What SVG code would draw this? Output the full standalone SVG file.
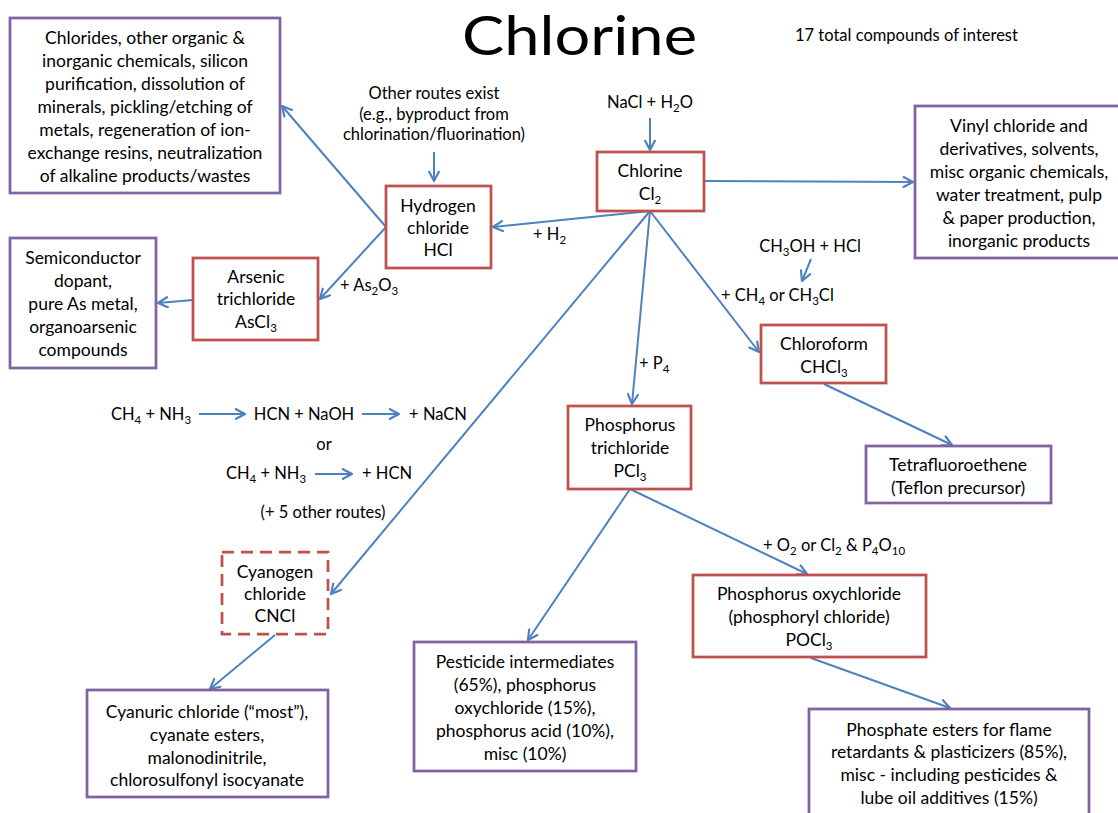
<svg xmlns="http://www.w3.org/2000/svg" width="1118" height="813" viewBox="0 0 1118 813">
  <defs>
    <style>
      text { font-family: Lato, "Open Sans", "Liberation Sans", sans-serif; fill: #000; }
      .t { font-size: 17.5px; text-anchor: middle; }
      .l { font-size: 16.5px; }
      .lc { font-size: 16.5px; text-anchor: middle; }
      .title { font-size: 55px; }
      .sub { font-size: 11.5px; }
      .red { fill: #fff; stroke: #C0504D; stroke-width: 2.75; }
      .purple { fill: #fff; stroke: #8064A2; stroke-width: 2.75; }
      .dash { stroke-dasharray: 12 7; }
      .conn line { stroke: #4F81BD; stroke-width: 2; fill: none; marker-end: url(#ah); }
    </style>
    <marker id="ah" viewBox="0 0 12 12" refX="10.5" refY="6" markerWidth="12" markerHeight="12" markerUnits="userSpaceOnUse" orient="auto">
      <path d="M1,1 L10.5,6 L1,11" fill="none" stroke="#4F81BD" stroke-width="2.2" stroke-linecap="round" stroke-linejoin="round"/>
    </marker>
  </defs>

  <rect width="1118" height="813" fill="#fff"/>

  <!-- heading -->
  <g id="title">
    <text class="title" x="462" y="54.5" textLength="235" lengthAdjust="spacingAndGlyphs">Chlorine</text>
    <text class="l" x="795" y="41">17 total compounds of interest</text>
  </g>

  <!-- connectors -->
  <g id="connectors" class="conn">
    <line x1="434" y1="152" x2="434" y2="181"/>
    <line x1="650" y1="118" x2="650" y2="150"/>
    <line x1="705" y1="181" x2="913" y2="182"/>
    <line x1="650" y1="211" x2="493" y2="227"/>
    <line x1="386" y1="227" x2="282" y2="106"/>
    <line x1="386" y1="227" x2="320" y2="299"/>
    <line x1="193" y1="300" x2="158" y2="303"/>
    <line x1="650" y1="211" x2="759" y2="352"/>
    <line x1="811" y1="259" x2="802" y2="281"/>
    <line x1="824" y1="384" x2="952" y2="445"/>
    <line x1="650" y1="211" x2="632" y2="404"/>
    <line x1="650" y1="211" x2="331" y2="594"/>
    <line x1="275" y1="635" x2="210" y2="689"/>
    <line x1="630" y1="489" x2="528" y2="640"/>
    <line x1="630" y1="489" x2="807" y2="574"/>
    <line x1="811" y1="658" x2="950" y2="708"/>
    <line x1="199" y1="414" x2="245" y2="414"/>
    <line x1="362" y1="414" x2="399" y2="414"/>
    <line x1="315" y1="474" x2="352" y2="474"/>
  </g>

  <!-- connector labels and side notes -->
  <g id="labels">
    <text class="lc" x="434" y="99">Other routes exist</text>
    <text class="lc" x="434" y="120">(e.g., byproduct from</text>
    <text class="lc" x="434" y="140">chlorination/fluorination)</text>
    <text class="lc" x="650" y="108">NaCl + H<tspan class="sub" dy="4">2</tspan><tspan dy="-4">O</tspan></text>
    <text class="l" x="533" y="240">+ H<tspan class="sub" dy="4">2</tspan></text>
    <text class="l" x="340" y="291">+ As<tspan class="sub" dy="4">2</tspan><tspan dy="-4">O</tspan><tspan class="sub" dy="4">3</tspan></text>
    <text class="lc" x="810" y="252">CH<tspan class="sub" dy="4">3</tspan><tspan dy="-4">OH + HCl</tspan></text>
    <text class="l" x="721" y="301">+ CH<tspan class="sub" dy="4">4</tspan><tspan dy="-4"> or CH</tspan><tspan class="sub" dy="4">3</tspan><tspan dy="-4">Cl</tspan></text>
    <text class="l" x="639" y="369">+ P<tspan class="sub" dy="4">4</tspan></text>
    <text class="l" x="763" y="551">+ O<tspan class="sub" dy="4">2</tspan><tspan dy="-4"> or Cl</tspan><tspan class="sub" dy="4">2</tspan><tspan dy="-4"> &amp; P</tspan><tspan class="sub" dy="4">4</tspan><tspan dy="-4">O</tspan><tspan class="sub" dy="4">10</tspan></text>
    <text class="lc" x="151" y="420">CH<tspan class="sub" dy="4">4</tspan><tspan dy="-4"> + NH</tspan><tspan class="sub" dy="4">3</tspan></text>
    <text class="lc" x="304" y="420">HCN + NaOH</text>
    <text class="lc" x="438" y="420">+ NaCN</text>
    <text class="lc" x="324" y="450">or</text>
    <text class="lc" x="266" y="479">CH<tspan class="sub" dy="4">4</tspan><tspan dy="-4"> + NH</tspan><tspan class="sub" dy="4">3</tspan></text>
    <text class="lc" x="387" y="479">+ HCN</text>
    <text class="lc" x="323" y="518">(+ 5 other routes)</text>
  </g>

  <g id="hcl-uses">
    <rect class="purple" x="10" y="18" width="270" height="175"/>
    <text class="t" x="145" y="44">Chlorides, other organic &amp;</text>
    <text class="t" x="145" y="67">inorganic chemicals, silicon</text>
    <text class="t" x="145" y="90">purification, dissolution of</text>
    <text class="t" x="145" y="113">minerals, pickling/etching of</text>
    <text class="t" x="145" y="136">metals, regeneration of ion-</text>
    <text class="t" x="145" y="159">exchange resins, neutralization</text>
    <text class="t" x="145" y="182">of alkaline products/wastes</text>
  </g>

  <g id="hydrogen-chloride">
    <rect class="red" x="386" y="186" width="105" height="82"/>
    <text class="t" x="438" y="212">Hydrogen</text>
    <text class="t" x="438" y="234">chloride</text>
    <text class="t" x="438" y="256">HCl</text>
  </g>

  <g id="chlorine">
    <rect class="red" x="597" y="152" width="107" height="59"/>
    <text class="t" x="650" y="177">Chlorine</text>
    <text class="t" x="650" y="200">Cl<tspan class="sub" dy="4">2</tspan></text>
  </g>

  <g id="chlorine-uses">
    <rect class="purple" x="915" y="106" width="210" height="152"/>
    <text class="t" x="1019" y="132">Vinyl chloride and</text>
    <text class="t" x="1019" y="155">derivatives, solvents,</text>
    <text class="t" x="1019" y="178">misc organic chemicals,</text>
    <text class="t" x="1019" y="201">water treatment, pulp</text>
    <text class="t" x="1019" y="224">&amp; paper production,</text>
    <text class="t" x="1019" y="247">inorganic products</text>
  </g>

  <g id="arsenic-trichloride">
    <rect class="red" x="193" y="258" width="125" height="82"/>
    <text class="t" x="256" y="283">Arsenic</text>
    <text class="t" x="256" y="305">trichloride</text>
    <text class="t" x="256" y="328">AsCl<tspan class="sub" dy="4">3</tspan></text>
  </g>

  <g id="arsenic-uses">
    <rect class="purple" x="10" y="238" width="146" height="130"/>
    <text class="t" x="83" y="264">Semiconductor</text>
    <text class="t" x="83" y="287">dopant,</text>
    <text class="t" x="83" y="310">pure As metal,</text>
    <text class="t" x="83" y="333">organoarsenic</text>
    <text class="t" x="83" y="356">compounds</text>
  </g>

  <g id="chloroform">
    <rect class="red" x="761" y="325" width="125" height="58"/>
    <text class="t" x="824" y="350">Chloroform</text>
    <text class="t" x="824" y="373">CHCl<tspan class="sub" dy="4">3</tspan></text>
  </g>

  <g id="tetrafluoroethene">
    <rect class="purple" x="866" y="446" width="185" height="57"/>
    <text class="t" x="958" y="471">Tetrafluoroethene</text>
    <text class="t" x="958" y="494">(Teflon precursor)</text>
  </g>

  <g id="phosphorus-trichloride">
    <rect class="red" x="568" y="406" width="123" height="83"/>
    <text class="t" x="630" y="431">Phosphorus</text>
    <text class="t" x="630" y="454">trichloride</text>
    <text class="t" x="630" y="477">PCl<tspan class="sub" dy="4">3</tspan></text>
  </g>

  <g id="cyanogen-chloride">
    <rect class="red dash" x="222" y="552" width="106" height="82"/>
    <text class="t" x="275" y="578">Cyanogen</text>
    <text class="t" x="275" y="600">chloride</text>
    <text class="t" x="275" y="622">CNCl</text>
  </g>

  <g id="cyanogen-uses">
    <rect class="purple" x="87" y="690" width="241" height="107"/>
    <text class="t" x="207" y="718">Cyanuric chloride (“most”),</text>
    <text class="t" x="207" y="741">cyanate esters,</text>
    <text class="t" x="207" y="764">malonodinitrile,</text>
    <text class="t" x="207" y="786">chlorosulfonyl isocyanate</text>
  </g>

  <g id="phosphorus-oxychloride">
    <rect class="red" x="693" y="575" width="233" height="82"/>
    <text class="t" x="809" y="600">Phosphorus oxychloride</text>
    <text class="t" x="809" y="623">(phosphoryl chloride)</text>
    <text class="t" x="809" y="646">POCl<tspan class="sub" dy="4">3</tspan></text>
  </g>

  <g id="pcl3-uses">
    <rect class="purple" x="414" y="642" width="222" height="129"/>
    <text class="t" x="525" y="668">Pesticide intermediates</text>
    <text class="t" x="525" y="691">(65%), phosphorus</text>
    <text class="t" x="525" y="714">oxychloride (15%),</text>
    <text class="t" x="525" y="737">phosphorus acid (10%),</text>
    <text class="t" x="525" y="760">misc (10%)</text>
  </g>

  <g id="pocl3-uses">
    <rect class="purple" x="809" y="709" width="280" height="120"/>
    <text class="t" x="949" y="736">Phosphate esters for flame</text>
    <text class="t" x="949" y="758">retardants &amp; plasticizers (85%),</text>
    <text class="t" x="949" y="781">misc - including pesticides &amp;</text>
    <text class="t" x="949" y="804">lube oil additives (15%)</text>
  </g>
</svg>
